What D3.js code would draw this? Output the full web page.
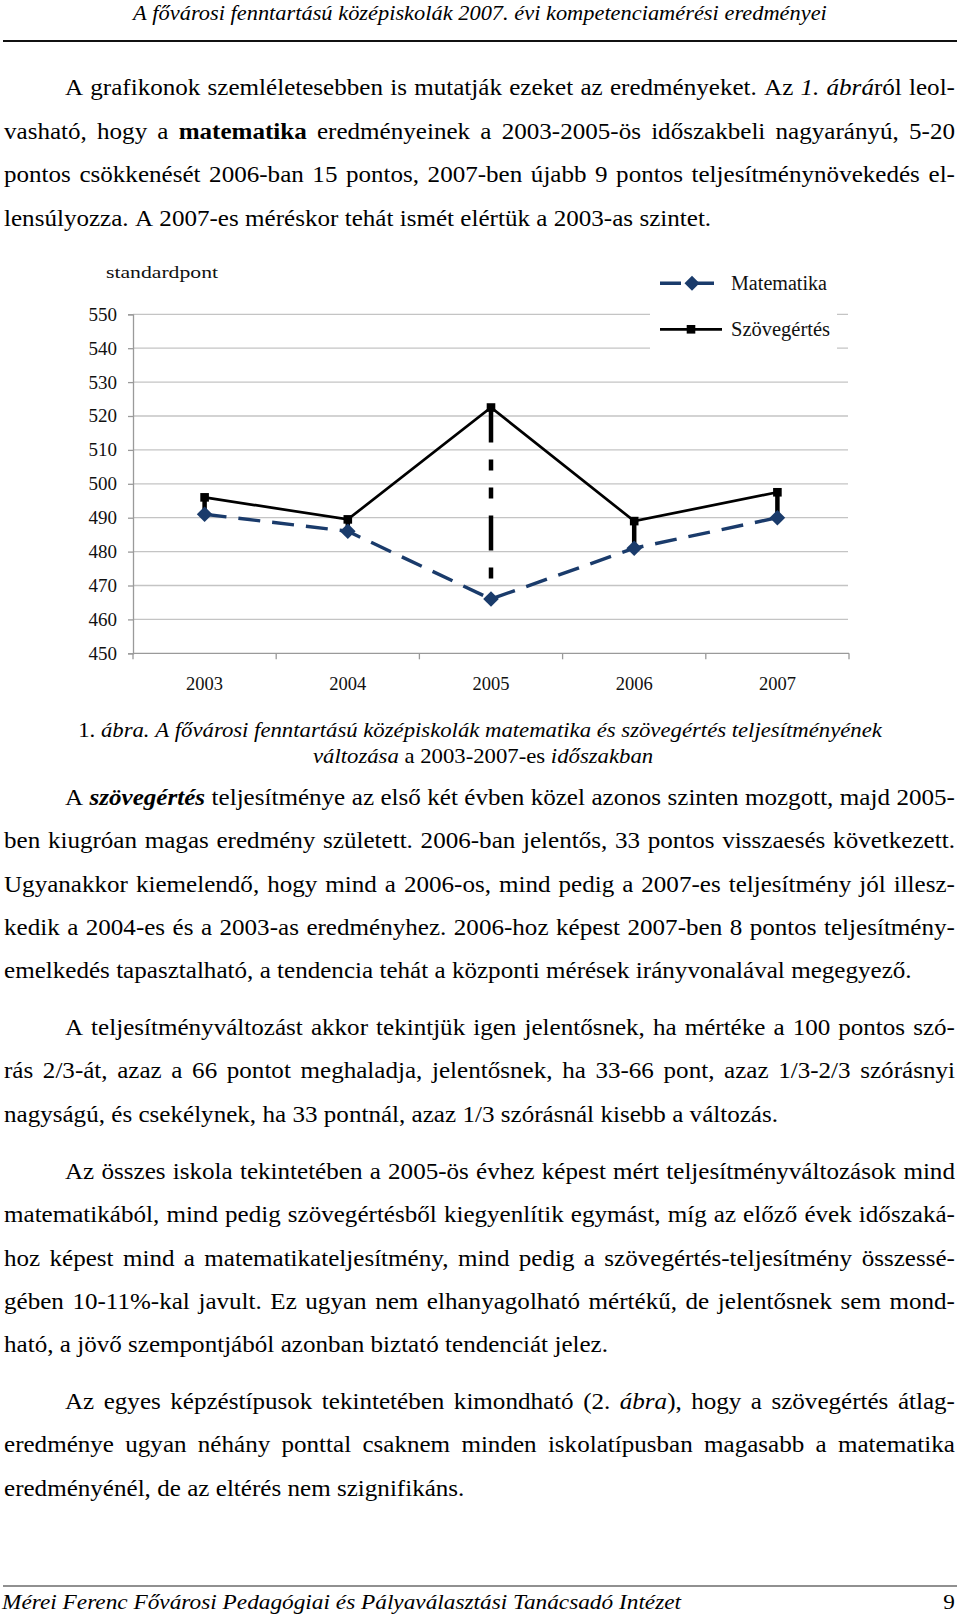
<!DOCTYPE html>
<html><head><meta charset="utf-8">
<script src="https://cdn.jsdelivr.net/npm/d3@7/dist/d3.min.js"></script>
<style>html,body{margin:0;padding:0;background:#fff;}svg{display:block;}</style>
</head><body>
<script>
// ---- chart data ----
const years = ["2003", "2004", "2005", "2006", "2007"];
const matematika = [491, 486, 466, 481, 490];
const szovegertes = [496, 489.5, 522.5, 489, 497.5];
const yTicks = [450, 460, 470, 480, 490, 500, 510, 520, 530, 540, 550];
const seriesNames = ["Matematika", "Szövegértés"];
const yAxisTitle = "standardpont";

// ---- page text (markup: *italic*, **bold**, ***bold italic***) ----
const headerText = "*A fővárosi fenntartású középiskolák 2007. évi kompetenciamérési eredményei*";
const para1 = [
  "A grafikonok szemléletesebben is mutatják ezeket az eredményeket. Az *1. ábrá*ról leol-",
  "vasható, hogy a **matematika** eredményeinek a 2003-2005-ös időszakbeli nagyarányú, 5-20",
  "pontos csökkenését 2006-ban 15 pontos, 2007-ben újabb 9 pontos teljesítménynövekedés el-",
  "lensúlyozza. A 2007-es méréskor tehát ismét elértük a 2003-as szintet."
];
const captionLines = [
  "1. *ábra. A fővárosi fenntartású középiskolák matematika és szövegértés teljesítményének*",
  "*változása* a 2003-2007-es *időszakban*"
];
const para2 = [
  "A ***szövegértés*** teljesítménye az első két évben közel azonos szinten mozgott, majd 2005-",
  "ben kiugróan magas eredmény született. 2006-ban jelentős, 33 pontos visszaesés következett.",
  "Ugyanakkor kiemelendő, hogy mind a 2006-os, mind pedig a 2007-es teljesítmény jól illesz-",
  "kedik a 2004-es és a 2003-as eredményhez. 2006-hoz képest 2007-ben 8 pontos teljesítmény-",
  "emelkedés tapasztalható, a tendencia tehát a központi mérések irányvonalával megegyező."
];
const para3 = [
  "A teljesítményváltozást akkor tekintjük igen jelentősnek, ha mértéke a 100 pontos szó-",
  "rás 2/3-át, azaz a 66 pontot meghaladja, jelentősnek, ha 33-66 pont, azaz 1/3-2/3 szórásnyi",
  "nagyságú, és csekélynek, ha 33 pontnál, azaz 1/3 szórásnál kisebb a változás."
];
const para4 = [
  "Az összes iskola tekintetében a 2005-ös évhez képest mért teljesítményváltozások mind",
  "matematikából, mind pedig szövegértésből kiegyenlítik egymást, míg az előző évek időszaká-",
  "hoz képest mind a matematikateljesítmény, mind pedig a szövegértés-teljesítmény összessé-",
  "gében 10-11%-kal javult. Ez ugyan nem elhanyagolható mértékű, de jelentősnek sem mond-",
  "ható, a jövő szempontjából azonban biztató tendenciát jelez."
];
const para5 = [
  "Az egyes képzéstípusok tekintetében kimondható (2. *ábra*), hogy a szövegértés átlag-",
  "eredménye ugyan néhány ponttal csaknem minden iskolatípusban magasabb a matematika",
  "eredményénél, de az eltérés nem szignifikáns."
];
const footerText = "*Mérei Ferenc Fővárosi Pedagógiai és Pályaválasztási Tanácsadó Intézet*";
const pageNumber = "9";

const W = 960, H = 1617;
const FONT = "'Liberation Serif','Times New Roman',serif";
const svg = d3.select("body").append("svg").attr("width", W).attr("height", H)
  .style("font-family", FONT);
svg.append("rect").attr("width", W).attr("height", H).attr("fill", "#fff");

// ---- rich text helpers ----
function parse(str) {
  const runs = []; let b = false, it = false, buf = "";
  const flush = () => { if (buf) runs.push({ t: buf, b, i: it }); buf = ""; };
  for (let k = 0; k < str.length;) {
    if (str.startsWith("***", k)) { flush(); b = !b; it = !it; k += 3; }
    else if (str.startsWith("**", k)) { flush(); b = !b; k += 2; }
    else if (str[k] === "*") { flush(); it = !it; k += 1; }
    else { buf += str[k]; k++; }
  }
  flush();
  return runs;
}
function words(runs) {
  const out = []; let cur = [];
  runs.forEach(r => {
    for (const ch of r.t) {
      if (ch === " ") { if (cur.length) out.push(cur); cur = []; }
      else {
        const last = cur[cur.length - 1];
        if (last && last.b === r.b && last.i === r.i) last.t += ch;
        else cur.push({ t: ch, b: r.b, i: r.i });
      }
    }
  });
  if (cur.length) out.push(cur);
  return out;
}
const BODY_SIZE = 22.5, SX = 1.115;
function drawLine(str, o) {
  const size = o.size || BODY_SIZE, S = o.sx || SX;
  const g = svg.append("g");
  const ws = words(parse(str)).map(w => {
    const t = g.append("text").attr("font-size", size).attr("fill", "#000");
    w.forEach(p => t.append("tspan").attr("font-style", p.i ? "italic" : "normal")
      .attr("font-weight", p.b ? "bold" : "normal").text(p.t));
    return { t, w: t.node().getComputedTextLength() };
  });
  const sum = d3.sum(ws, d => d.w);
  let gap = size * 0.25;
  if (o.align === "justify" && ws.length > 1) gap = ((o.right - o.x) / S - sum) / (ws.length - 1);
  const total = sum + gap * (ws.length - 1);
  let x0 = o.x;
  if (o.align === "center") x0 = o.cx - total * S / 2;
  if (o.align === "right") x0 = o.x - total * S;
  g.attr("transform", `translate(${x0},${o.y}) scale(${S},1)`);
  let cx = 0;
  ws.forEach(n => { n.t.attr("x", cx); cx += n.w + gap; });
}
const LEFT = 4, RIGHT = 955, INDENT = 65;
function drawPara(lines, y0, step) {
  lines.forEach((l, k) => drawLine(l, {
    x: k === 0 ? INDENT : LEFT, right: RIGHT, y: y0 + k * step,
    align: k === lines.length - 1 ? "left" : "justify"
  }));
}

// header
drawLine(headerText, { cx: 480, y: 20, align: "center", size: 20, sx: 1.12 });
svg.append("line").attr("x1", 3).attr("x2", 957).attr("y1", 41).attr("y2", 41)
  .attr("stroke", "#111").attr("stroke-width", 1.8);

drawPara(para1, 95, 43.6);

// ---- chart ----
const x = d3.scaleBand().domain(years).range([133, 849]);
const y = d3.scaleLinear().domain([450, 550]).range([653.3, 314.3]);
const cxv = d => x(d) + x.bandwidth() / 2;

// gridlines
svg.append("g").selectAll("line").data(yTicks.slice(1)).join("line")
  .attr("x1", 133).attr("x2", 848).attr("y1", d => y(d)).attr("y2", d => y(d))
  .attr("stroke", "#c4c4c4").attr("stroke-width", 1.3);

// y axis
const yAxis = svg.append("g").attr("transform", "translate(133,0)")
  .call(d3.axisLeft(y).tickValues(yTicks).tickSize(5).tickPadding(11));
yAxis.select(".domain").attr("stroke", "#9a9a9a").attr("stroke-width", 1.3);
yAxis.selectAll(".tick line").attr("stroke", "#9a9a9a").attr("stroke-width", 1.3);
yAxis.selectAll(".tick text").attr("font-family", FONT).attr("font-size", 18.5)
  .attr("fill", "#111").attr("textLength", 28.5).attr("lengthAdjust", "spacingAndGlyphs");

// x axis
const xAxisG = svg.append("g").attr("transform", "translate(0,653.3)");
xAxisG.append("line").attr("x1", 133).attr("x2", 849).attr("stroke", "#9a9a9a").attr("stroke-width", 1.3);
const bounds = years.map(d => x(d)).concat([x(years[years.length - 1]) + x.bandwidth()]);
xAxisG.selectAll(".tk").data(bounds).join("line").attr("class", "tk")
  .attr("x1", d => d).attr("x2", d => d).attr("y1", 0).attr("y2", 6)
  .attr("stroke", "#9a9a9a").attr("stroke-width", 1.3);
svg.append("g").selectAll("text").data(years).join("text")
  .attr("x", d => cxv(d)).attr("y", 690).attr("text-anchor", "middle")
  .attr("font-size", 19).attr("textLength", 37).attr("lengthAdjust", "spacingAndGlyphs")
  .attr("fill", "#111").text(d => d);

// axis title
svg.append("text").attr("x", 106).attr("y", 278).attr("font-size", 16.5)
  .attr("textLength", 112).attr("lengthAdjust", "spacingAndGlyphs").attr("fill", "#111").text(yAxisTitle);

// high-low lines
svg.append("g").selectAll("line").data(years).join("line")
  .attr("x1", d => cxv(d)).attr("x2", d => cxv(d))
  .attr("y1", (d, i) => y(szovegertes[i])).attr("y2", (d, i) => y(matematika[i]))
  .attr("stroke", "#000").attr("stroke-width", 4.5).attr("stroke-dasharray", "35,17,11,17,11,17");

const NAVY = "#1a3b6b";
const mathPts = years.map((d, i) => [cxv(d), y(matematika[i])]);
const szovPts = years.map((d, i) => [cxv(d), y(szovegertes[i])]);
svg.append("path").attr("d", d3.line()(mathPts)).attr("fill", "none")
  .attr("stroke", NAVY).attr("stroke-width", 3.4).attr("stroke-dasharray", "22,12");
svg.append("path").attr("d", d3.line()(szovPts)).attr("fill", "none")
  .attr("stroke", "#000").attr("stroke-width", 2.7);

const diamond = (cx, cy, r) => `M${cx},${cy - r}L${cx + r},${cy}L${cx},${cy + r}L${cx - r},${cy}Z`;
svg.append("g").selectAll("path").data(mathPts).join("path")
  .attr("d", p => diamond(p[0], p[1], 7.8)).attr("fill", NAVY);
svg.append("g").selectAll("rect").data(szovPts).join("rect")
  .attr("x", p => p[0] - 4.3).attr("y", p => p[1] - 4.3).attr("width", 8.6).attr("height", 8.6).attr("fill", "#000");

// legend
const lg = svg.append("g");
lg.append("rect").attr("x", 650).attr("y", 258).attr("width", 187).attr("height", 94).attr("fill", "#fff");
lg.append("line").attr("x1", 660).attr("x2", 717).attr("y1", 283.3).attr("y2", 283.3)
  .attr("stroke", NAVY).attr("stroke-width", 3.4).attr("stroke-dasharray", "21,12");
lg.append("path").attr("d", diamond(692, 283.3, 7.5)).attr("fill", NAVY);
lg.append("line").attr("x1", 660).attr("x2", 722).attr("y1", 329.3).attr("y2", 329.3)
  .attr("stroke", "#000").attr("stroke-width", 2.7);
lg.append("rect").attr("x", 691 - 4.3).attr("y", 329.3 - 4.3).attr("width", 8.6).attr("height", 8.6).attr("fill", "#000");
lg.append("text").attr("x", 731).attr("y", 290).attr("font-size", 20.5).attr("textLength", 96)
  .attr("lengthAdjust", "spacingAndGlyphs").attr("fill", "#111").text(seriesNames[0]);
lg.append("text").attr("x", 731).attr("y", 336).attr("font-size", 20.5).attr("textLength", 99)
  .attr("lengthAdjust", "spacingAndGlyphs").attr("fill", "#111").text(seriesNames[1]);

// caption
drawLine(captionLines[0], { cx: 480, y: 737, align: "center", size: 20.3, sx: 1.12 });
drawLine(captionLines[1], { cx: 483, y: 763, align: "center", size: 20.3, sx: 1.12 });

drawPara(para2, 805, 43.3);
drawPara(para3, 1035, 43.3);
drawPara(para4, 1179, 43.3);
drawPara(para5, 1409, 43.3);

// footer
svg.append("line").attr("x1", 3).attr("x2", 957).attr("y1", 1586).attr("y2", 1586)
  .attr("stroke", "#222").attr("stroke-width", 1.2);
drawLine(footerText, { x: 2, y: 1609, align: "left", size: 20.8, sx: 1.12 });
drawLine(pageNumber, { x: 955, y: 1609, align: "right", size: 20.8, sx: 1.12 });
</script>
</body></html>
